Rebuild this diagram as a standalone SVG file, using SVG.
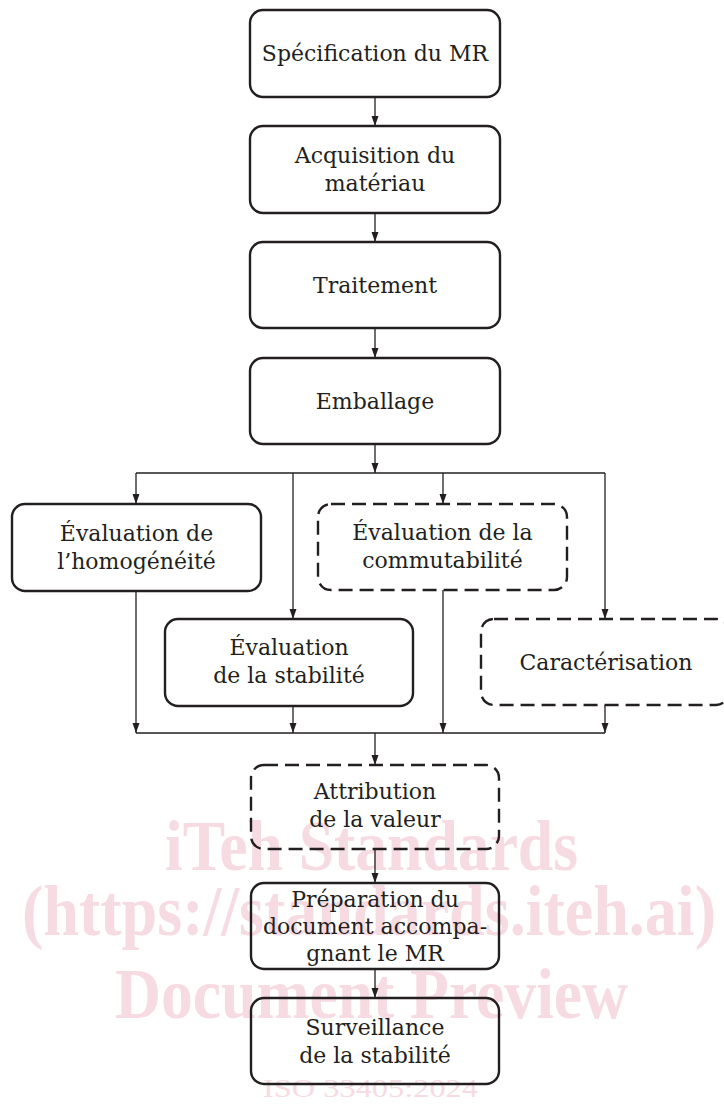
<svg xmlns="http://www.w3.org/2000/svg" width="724" height="1104" viewBox="0 0 724 1104">
  <defs>
    <marker id="arr" markerUnits="userSpaceOnUse" markerWidth="10" markerHeight="8" refX="10" refY="3.5" orient="auto">
      <path d="M0,0 L10,3.5 L0,7 z" fill="#231f20"/>
    </marker>
  </defs>
  <style>
    .box { fill: none; stroke: #231f20; stroke-width: 2.4; }
    .dash { stroke-dasharray: 14 7; }
    .lbl { font-family: "DejaVu Serif", "Liberation Serif", serif; font-size: 22px; fill: #231f20; text-anchor: middle; }
    .con line { stroke: #231f20; stroke-width: 1.3; fill: none; }
    .wm { font-family: "Liberation Serif", serif; font-weight: bold; fill: #f7dbe3; }
    .wm2 { font-family: "Liberation Serif", serif; fill: #f7dbe3; }
  </style>
  <rect width="724" height="1104" fill="#ffffff"/>

  <g id="watermark">
    <text class="wm" x="165" y="870" font-size="72" textLength="413" lengthAdjust="spacingAndGlyphs">iTeh Standards</text>
    <text class="wm" x="22" y="935" font-size="72" textLength="694" lengthAdjust="spacingAndGlyphs">(https://standards.iteh.ai)</text>
    <text class="wm" x="115" y="1018" font-size="72" textLength="513" lengthAdjust="spacingAndGlyphs">Document Preview</text>
    <text class="wm2" x="263" y="1097" font-size="25" textLength="215" lengthAdjust="spacingAndGlyphs">ISO 33405:2024</text>
  </g>

  <g id="connectors" class="con">
    <line x1="375" y1="97" x2="375" y2="126" marker-end="url(#arr)"/>
    <line x1="375" y1="213" x2="375" y2="242" marker-end="url(#arr)"/>
    <line x1="375" y1="328" x2="375" y2="358" marker-end="url(#arr)"/>
    <line x1="375" y1="444" x2="375" y2="473" marker-end="url(#arr)"/>
    <line x1="136" y1="473" x2="605" y2="473"/>
    <line x1="136" y1="473" x2="136" y2="504" marker-end="url(#arr)"/>
    <line x1="293" y1="473" x2="293" y2="619" marker-end="url(#arr)"/>
    <line x1="443" y1="473" x2="443" y2="504" marker-end="url(#arr)"/>
    <line x1="605" y1="473" x2="605" y2="619" marker-end="url(#arr)"/>
    <line x1="136" y1="591" x2="136" y2="733" marker-end="url(#arr)"/>
    <line x1="293" y1="706" x2="293" y2="733" marker-end="url(#arr)"/>
    <line x1="443" y1="590" x2="443" y2="733" marker-end="url(#arr)"/>
    <line x1="605" y1="705" x2="605" y2="733" marker-end="url(#arr)"/>
    <line x1="136" y1="733" x2="605" y2="733"/>
    <line x1="375" y1="733" x2="375" y2="765" marker-end="url(#arr)"/>
    <line x1="375" y1="849" x2="375" y2="883" marker-end="url(#arr)"/>
    <line x1="375" y1="969" x2="375" y2="998" marker-end="url(#arr)"/>
  </g>

  <g id="n-specification">
    <rect class="box" x="250" y="10" width="250" height="87" rx="13"/>
    <text class="lbl" x="375" y="61">Spécification du MR</text>
  </g>
  <g id="n-acquisition">
    <rect class="box" x="250" y="126" width="250" height="87" rx="13"/>
    <text class="lbl" x="375" y="163">Acquisition du</text>
    <text class="lbl" x="375" y="191">matériau</text>
  </g>
  <g id="n-traitement">
    <rect class="box" x="250" y="242" width="250" height="86" rx="13"/>
    <text class="lbl" x="375" y="293">Traitement</text>
  </g>
  <g id="n-emballage">
    <rect class="box" x="250" y="358" width="250" height="86" rx="13"/>
    <text class="lbl" x="375" y="409">Emballage</text>
  </g>
  <g id="n-homogeneite">
    <rect class="box" x="12" y="504" width="249" height="87" rx="13"/>
    <text class="lbl" x="136.5" y="541">Évaluation de</text>
    <text class="lbl" x="136.5" y="569">l’homogénéité</text>
  </g>
  <g id="n-commutabilite">
    <rect class="box dash" x="318" y="504" width="249" height="86" rx="13"/>
    <text class="lbl" x="442.5" y="540">Évaluation de la</text>
    <text class="lbl" x="442.5" y="568">commutabilité</text>
  </g>
  <g id="n-stabilite">
    <rect class="box" x="165" y="619" width="248" height="87" rx="13"/>
    <text class="lbl" x="289" y="655">Évaluation</text>
    <text class="lbl" x="289" y="683">de la stabilité</text>
  </g>
  <g id="n-caracterisation">
    <rect class="box dash" x="481" y="619" width="248" height="86" rx="13"/>
    <text class="lbl" x="606" y="670">Caractérisation</text>
  </g>
  <g id="n-attribution">
    <rect class="box dash" x="251" y="765" width="248" height="84" rx="13"/>
    <text class="lbl" x="375" y="799">Attribution</text>
    <text class="lbl" x="375" y="827">de la valeur</text>
  </g>
  <g id="n-preparation">
    <rect class="box" x="251" y="883" width="248" height="86" rx="13"/>
    <text class="lbl" x="375" y="907">Préparation du</text>
    <text class="lbl" x="375" y="934">document accompa-</text>
    <text class="lbl" x="375" y="961">gnant le MR</text>
  </g>
  <g id="n-surveillance">
    <rect class="box" x="251" y="998" width="248" height="86" rx="13"/>
    <text class="lbl" x="375" y="1035">Surveillance</text>
    <text class="lbl" x="375" y="1063">de la stabilité</text>
  </g>
</svg>
